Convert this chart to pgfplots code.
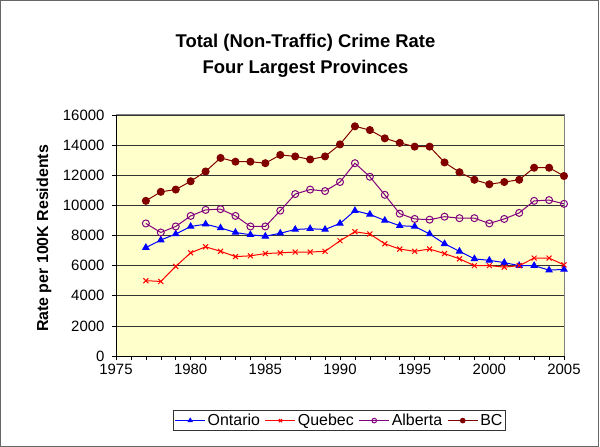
\documentclass[border=0pt]{standalone}
\usepackage{pgfplots}
\pgfplotsset{compat=1.18}
\usepackage{fontspec}
\setmainfont{Liberation Sans}
\definecolor{plotbg}{HTML}{FFFFCC}
\definecolor{bcred}{HTML}{800000}
\definecolor{albpurple}{HTML}{800080}
\begin{document}
\begin{tikzpicture}[x=1bp,y=1bp]
\useasboundingbox (-116bp,-91bp) rectangle (484bp,356bp);
\draw[gray!80!black,line width=1bp] (-115bp,-90bp) rectangle (482bp,355bp);
\begin{axis}[
    at={(0,0)}, anchor=south west,
    scale only axis,
    width=448bp, height=241bp,
    xmin=1975, xmax=2005,
    ymin=0, ymax=16000,
    xtick={1975,1980,...,2005},
    ytick={0,2000,...,16000},
    minor x tick num=4,
    tick align=outside,
    major tick length=4bp, minor tick length=4bp,
    axis x line*=bottom, axis y line*=left,
    axis line style={black, line width=0.8bp},
    every tick/.style={black, line width=0.6bp},
    ymajorgrids,
    grid style={black!80, line width=0.6bp},
    axis background/.style={fill=plotbg},
    tick label style={font=\fontsize{15}{17}\selectfont},
    yticklabel style={xshift=-4bp},
    xticklabel style={yshift=-1bp},
    /pgf/number format/assume math mode=true,
    /pgf/number format/1000 sep={},
    scaled y ticks=false,
    legend columns=4,
    legend style={at={(0.499,-0.268)}, anchor=center, draw=black!80, line width=0.8bp,
        font=\fontsize{16}{18}\selectfont, inner sep=1.5bp,
        /tikz/every odd column/.append style={column sep=0bp},
        /tikz/every even column/.append style={column sep=3bp}},
    legend image code/.code={%
        \draw[mark repeat=2,mark phase=2,mark size=2.3bp]
        plot coordinates {(0bp,0bp) (15bp,0bp) (30bp,0bp)};},
    clip=false,
]
\addplot[blue, line width=1bp, mark=triangle*, mark size=3.5bp, mark options={fill=blue, draw=blue}] coordinates {
 (1977,7200) (1978,7700) (1979,8100) (1980,8600) (1981,8750) (1982,8500) (1983,8200)
 (1984,8050) (1985,7950) (1986,8150) (1987,8400) (1988,8450) (1989,8400) (1990,8800)
 (1991,9650) (1992,9400) (1993,9000) (1994,8650) (1995,8600) (1996,8100) (1997,7450)
 (1998,6950) (1999,6450) (2000,6350) (2001,6200) (2002,6000) (2003,6000) (2004,5700) (2005,5750)};
\addlegendentry{Ontario}
\addplot[red, line width=1bp, mark=x, mark size=3.5bp] coordinates {
 (1977,5000) (1978,4950) (1979,5950) (1980,6850) (1981,7250) (1982,6950) (1983,6600)
 (1984,6650) (1985,6800) (1986,6850) (1987,6900) (1988,6900) (1989,6950) (1990,7650)
 (1991,8250) (1992,8100) (1993,7450) (1994,7100) (1995,6950) (1996,7100) (1997,6800)
 (1998,6450) (1999,6000) (2000,6000) (2001,5900) (2002,6000) (2003,6500) (2004,6500) (2005,6050)};
\addlegendentry{Quebec}
\addplot[albpurple, line width=1bp, mark=o, mark size=3.5bp] coordinates {
 (1977,8800) (1978,8200) (1979,8600) (1980,9300) (1981,9700) (1982,9750) (1983,9300)
 (1984,8600) (1985,8600) (1986,9650) (1987,10750) (1988,11050) (1989,10950) (1990,11550)
 (1991,12800) (1992,11900) (1993,10700) (1994,9450) (1995,9100) (1996,9050) (1997,9250)
 (1998,9150) (1999,9150) (2000,8800) (2001,9100) (2002,9500) (2003,10300) (2004,10350) (2005,10100)};
\addlegendentry{Alberta}
\addplot[bcred, line width=1bp, mark=*, mark size=3.5bp, mark options={fill=bcred}] coordinates {
 (1977,10300) (1978,10900) (1979,11050) (1980,11600) (1981,12250) (1982,13150) (1983,12900)
 (1984,12900) (1985,12800) (1986,13350) (1987,13250) (1988,13050) (1989,13250) (1990,14050)
 (1991,15250) (1992,15000) (1993,14450) (1994,14150) (1995,13900) (1996,13900) (1997,12850)
 (1998,12200) (1999,11700) (2000,11400) (2001,11550) (2002,11700) (2003,12500) (2004,12500) (2005,11950)};
\addlegendentry{BC}
\draw[gray, line width=1bp] (rel axis cs:0,1) -- (rel axis cs:1,1) -- (rel axis cs:1,0);
\end{axis}
\node[font=\bfseries\fontsize{18.5}{20}\selectfont, anchor=base] at (189.5bp,308.7bp) {Total (Non-Traffic) Crime Rate};
\node[font=\bfseries\fontsize{18.5}{20}\selectfont, anchor=base] at (189.5bp,282.7bp) {Four Largest Provinces};
\node[font=\bfseries\fontsize{16}{18}\selectfont, rotate=90] at (-72bp,117.5bp) {Rate per 100K Residents};
\end{tikzpicture}
\end{document}
